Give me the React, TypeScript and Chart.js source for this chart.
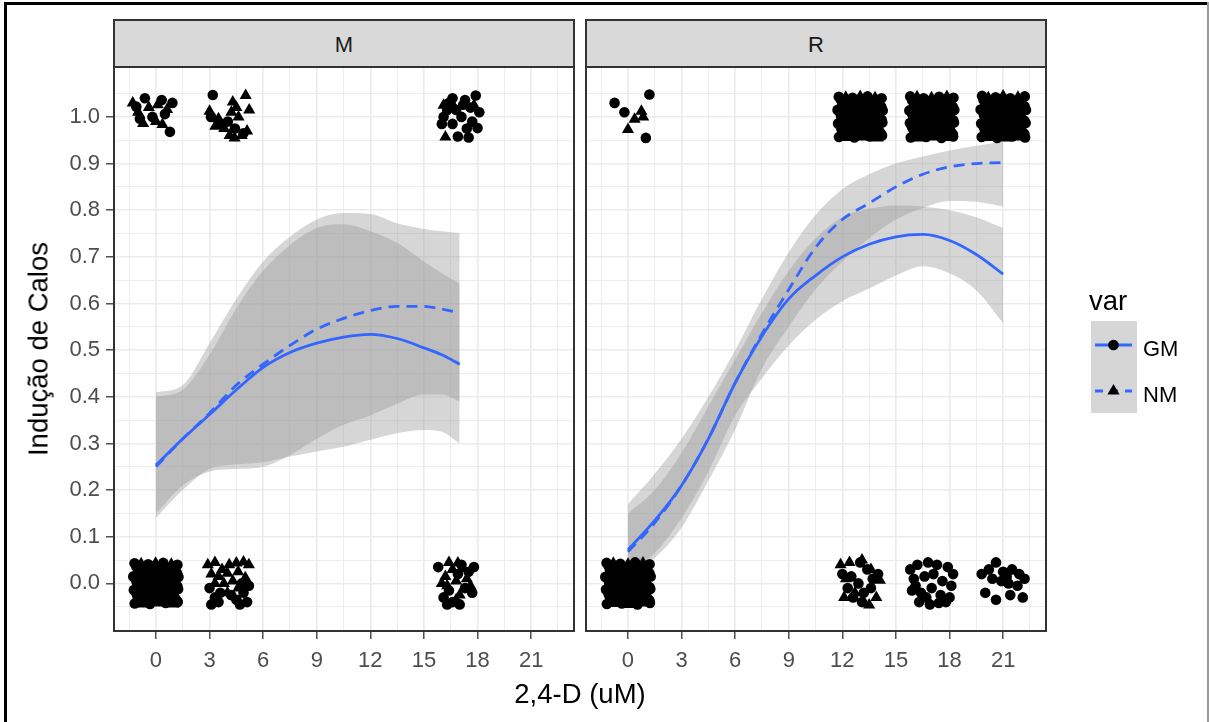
import React, { useEffect, useRef } from 'react';
import { Chart, registerables } from 'chart.js';

Chart.register(...registerables);

type Pt = [number, number];

// ---------------- text ----------------
const PANELS = ['M', 'R'];
const LEGEND_TITLE = 'var';
const SERIES = ['GM', 'NM'];
const X_TITLE = '2,4-D (uM)';
const Y_TITLE = 'Indução de Calos';

// ---------------- axes ----------------
const X_RANGE = [-2.35, 23.4];
const Y_RANGE = [-0.102, 1.107];
const X_MAJOR = [0, 3, 6, 9, 12, 15, 18, 21];
const X_LABELS = ['0', '3', '6', '9', '12', '15', '18', '21'];
const X_MINOR = [-1.5, 1.5, 4.5, 7.5, 10.5, 13.5, 16.5, 19.5, 22.5];
const Y_MAJOR = [0, 0.1, 0.2, 0.3, 0.4, 0.5, 0.6, 0.7, 0.8, 0.9, 1.0];
const Y_LABELS = ['0.0', '0.1', '0.2', '0.3', '0.4', '0.5', '0.6', '0.7', '0.8', '0.9', '1.0'];
const Y_MINOR = [-0.05, 0.05, 0.15, 0.25, 0.35, 0.45, 0.55, 0.65, 0.75, 0.85, 0.95, 1.05];

// ---------------- smooth fits: panel M ----------------
const M_X = [0, 1.5, 3, 4.5, 6, 7.5, 9, 10.5, 12, 13.5, 15, 16, 17];
const M_GM_FIT = [0.254, 0.31, 0.362, 0.415, 0.463, 0.495, 0.515, 0.528, 0.534, 0.525, 0.505, 0.49, 0.47];
const M_GM_LO = [0.14, 0.2, 0.245, 0.255, 0.26, 0.272, 0.283, 0.293, 0.308, 0.322, 0.329, 0.325, 0.3];
const M_GM_HI = [0.4, 0.415, 0.49, 0.59, 0.67, 0.725, 0.762, 0.77, 0.755, 0.73, 0.69, 0.665, 0.643];
const M_NM_FIT = [0.25, 0.31, 0.365, 0.425, 0.47, 0.51, 0.545, 0.568, 0.585, 0.594, 0.594, 0.588, 0.58];
const M_NM_LO = [0.15, 0.21, 0.24, 0.245, 0.25, 0.275, 0.31, 0.34, 0.36, 0.385, 0.405, 0.405, 0.39];
const M_NM_HI = [0.41, 0.425, 0.515, 0.61, 0.69, 0.743, 0.78, 0.794, 0.792, 0.772, 0.76, 0.755, 0.751];

// ---------------- smooth fits: panel R ----------------
const R_X = [0, 1.5, 3, 4.5, 6, 7.5, 9, 10.5, 12, 13.5, 15, 16.5, 18, 19.5, 21];
const R_GM_FIT = [0.072, 0.135, 0.21, 0.31, 0.43, 0.53, 0.61, 0.66, 0.7, 0.727, 0.743, 0.748, 0.735, 0.705, 0.663];
const R_GM_LO = [0.025, 0.065, 0.14, 0.24, 0.36, 0.44, 0.51, 0.565, 0.605, 0.632, 0.66, 0.68, 0.665, 0.628, 0.558];
const R_GM_HI = [0.15, 0.2, 0.28, 0.38, 0.48, 0.58, 0.67, 0.74, 0.785, 0.803, 0.81, 0.808, 0.8, 0.785, 0.762];
const R_NM_FIT = [0.068, 0.13, 0.21, 0.31, 0.43, 0.535, 0.63, 0.72, 0.78, 0.815, 0.85, 0.877, 0.893, 0.9, 0.902];
const R_NM_LO = [0.02, 0.055, 0.12, 0.22, 0.33, 0.46, 0.55, 0.63, 0.69, 0.74, 0.78, 0.805, 0.82, 0.818, 0.808];
const R_NM_HI = [0.17, 0.235, 0.31, 0.4, 0.5, 0.61, 0.71, 0.79, 0.845, 0.877, 0.9, 0.915, 0.928, 0.938, 0.947];

// ---------------- jittered observations: panel M ----------------
const M_GM_POINTS: Pt[] = [
  [-1.1, 1.022], [-0.62, 1.04], [0.32, 1.036], [0.92, 1.03], [0.78, 0.968], [-0.2, 1.0], [0.5, 1.006], [-0.9, 0.996],
  [3.18, 1.047], [3.08, 1.0], [3.62, 0.985], [4.42, 0.975], [4.9, 0.965], [4.02, 0.99],
  [16.1, 1.0], [16.6, 1.04], [17.3, 1.036], [17.9, 1.046], [18.1, 1.01], [17.6, 1.02], [16.8, 1.015], [16.4, 1.03],
  [17.1, 1.0], [17.7, 0.99], [16.0, 0.985], [17.4, 0.975], [18.0, 0.976], [16.9, 0.958], [17.5, 0.956], [16.6, 0.985],
  [17.2, 1.026], [16.3, 1.015],
  [-1.2, 0.043], [-0.44, 0.041], [0.41, 0.044], [1.2, 0.04], [-1.0, 0.028], [-0.2, 0.03], [0.64, 0.027],
  [-1.27, 0.015], [-0.41, 0.013], [0.45, 0.016], [1.26, 0.014], [-1.06, 0.0], [-0.19, 0.002], [0.68, -0.001],
  [-1.24, -0.014], [-0.38, -0.013], [0.5, -0.015], [1.24, -0.012], [-1.03, -0.029], [-0.14, -0.03], [0.74, -0.028],
  [-1.19, -0.043], [-0.33, -0.044], [0.54, -0.042], [1.22, -0.04],
  [-1.1, 0.036], [-0.6, 0.035], [-0.08, 0.037], [0.42, 0.034], [0.95, 0.036], [-0.88, 0.022], [-0.36, 0.021],
  [0.15, 0.023], [0.68, 0.021], [1.18, 0.022], [-1.12, 0.007], [-0.58, 0.008], [-0.05, 0.006], [0.47, 0.007],
  [0.98, 0.008], [-0.9, -0.007], [-0.35, -0.006], [0.18, -0.008], [0.7, -0.007], [1.2, -0.006], [-1.1, -0.021],
  [-0.6, -0.022], [-0.06, -0.02], [0.46, -0.021], [0.96, -0.022], [-0.88, -0.036], [-0.37, -0.037], [0.16, -0.035],
  [0.69, -0.036], [1.17, -0.037],
  [3.0, -0.01], [3.3, -0.03], [3.1, -0.045], [3.6, -0.02], [4.5, -0.035], [4.9, -0.02], [5.1, -0.04], [4.7, -0.045],
  [3.5, -0.04], [4.8, 0.0], [5.2, -0.005], [4.2, -0.025],
  [15.8, 0.035], [16.1, -0.03], [16.3, -0.045], [16.6, -0.04], [17.0, -0.045], [16.9, 0.02], [17.5, 0.025], [17.8, 0.035],
  [17.3, -0.01], [17.7, -0.02], [16.4, -0.015], [17.1, 0.04],
];
const M_NM_POINTS: Pt[] = [
  [-1.3, 1.03], [-0.4, 1.02], [0.1, 1.026], [0.62, 1.016], [-0.72, 0.986], [0.0, 0.99], [0.36, 0.984], [-1.0, 1.01],
  [3.0, 1.012], [3.5, 0.996], [4.3, 1.032], [4.62, 1.0], [5.02, 1.046], [5.22, 1.015], [4.12, 0.96], [4.8, 0.96],
  [4.4, 0.955], [3.82, 0.975], [5.1, 0.97], [3.32, 0.98], [4.5, 1.02], [4.22, 1.01],
  [16.2, 0.957], [16.1, 1.025], [16.7, 1.02], [17.8, 1.025],
  [-0.83, 0.042], [-0.02, 0.043], [0.86, 0.041], [-0.62, 0.029], [0.23, 0.028], [1.07, 0.03], [-0.86, 0.016],
  [0.03, 0.014], [0.88, 0.015], [-0.65, 0.001], [0.24, -0.001], [1.1, 0.0], [-0.81, -0.014], [0.06, -0.015],
  [0.93, -0.013], [-0.58, -0.028], [0.3, -0.03], [1.14, -0.029], [-0.78, -0.044], [0.1, -0.042], [0.97, -0.044],
  [2.9, 0.04], [3.3, 0.045], [3.7, 0.03], [4.1, 0.04], [4.5, 0.044], [4.9, 0.046], [5.2, 0.04], [3.1, 0.02],
  [3.5, 0.015], [4.0, 0.022], [4.6, 0.025], [5.0, 0.012], [3.8, 0.0], [4.3, 0.005], [3.3, 0.0], [4.0, -0.02], [4.6, -0.01],
  [16.4, 0.045], [16.9, 0.044], [16.6, 0.03], [17.2, 0.032], [16.2, 0.015], [16.8, 0.005], [17.4, 0.01], [16.0, 0.0],
  [16.3, -0.005], [17.6, -0.005], [17.0, -0.025], [16.8, -0.035],
];

// ---------------- jittered observations: panel R ----------------
const R_GM_POINTS: Pt[] = [
  [-0.75, 1.03], [-0.2, 1.01], [1.2, 1.048], [1.0, 0.955],
  [11.8, 1.043], [12.57, 1.041], [13.41, 1.044], [14.2, 1.04], [12.0, 1.028], [12.8, 1.03], [13.64, 1.027],
  [11.73, 1.015], [12.59, 1.013], [13.45, 1.016], [14.26, 1.014], [11.94, 1.0], [12.81, 1.002], [13.68, 0.999],
  [11.76, 0.986], [12.62, 0.987], [13.5, 0.985], [14.24, 0.988], [11.97, 0.971], [12.86, 0.97], [13.74, 0.972],
  [11.81, 0.957], [12.67, 0.956], [13.54, 0.958], [14.22, 0.96],
  [11.92, 1.036], [12.41, 1.035], [12.93, 1.037], [13.44, 1.034], [13.96, 1.036], [12.14, 1.022], [12.65, 1.021],
  [13.17, 1.023], [13.69, 1.021], [14.18, 1.022], [11.9, 1.007], [12.43, 1.008], [12.96, 1.006], [13.48, 1.007],
  [13.99, 1.008], [12.11, 0.993], [12.66, 0.994], [13.19, 0.992], [13.71, 0.993], [14.2, 0.994], [11.91, 0.979],
  [12.42, 0.978], [12.95, 0.98], [13.47, 0.979], [13.97, 0.978], [12.13, 0.964], [12.64, 0.963], [13.17, 0.965],
  [13.7, 0.964], [14.17, 0.963],
  [15.8, 1.044], [16.55, 1.04], [17.42, 1.043], [18.22, 1.041], [16.02, 1.029], [16.78, 1.028], [17.66, 1.03],
  [15.75, 1.014], [16.61, 1.016], [17.47, 1.013], [18.27, 1.015], [15.96, 1.001], [16.83, 0.999], [17.7, 1.002],
  [15.78, 0.987], [16.64, 0.985], [17.52, 0.986], [18.25, 0.988], [15.99, 0.972], [16.88, 0.971], [17.72, 0.97],
  [15.83, 0.956], [16.69, 0.957], [17.55, 0.955], [18.2, 0.958],
  [15.91, 1.035], [16.43, 1.036], [16.94, 1.034], [17.46, 1.037], [17.97, 1.035], [16.12, 1.021], [16.66, 1.022],
  [17.18, 1.02], [17.7, 1.022], [18.19, 1.021], [15.89, 1.008], [16.41, 1.006], [16.95, 1.007], [17.49, 1.008],
  [18.0, 1.006], [16.13, 0.992], [16.65, 0.993], [17.2, 0.994], [17.72, 0.992], [18.21, 0.993], [15.9, 0.978],
  [16.44, 0.979], [16.96, 0.977], [17.48, 0.978], [17.99, 0.979], [16.12, 0.963], [16.67, 0.964], [17.19, 0.962],
  [17.71, 0.964], [18.18, 0.963],
  [19.82, 1.045], [20.58, 1.042], [21.4, 1.04], [22.21, 1.044], [20.0, 1.03], [20.82, 1.027], [21.62, 1.029],
  [19.74, 1.016], [20.6, 1.014], [21.46, 1.013], [22.28, 1.015], [19.95, 1.002], [20.8, 0.998], [21.67, 1.0],
  [19.77, 0.986], [20.63, 0.988], [21.49, 0.985], [22.26, 0.987], [19.98, 0.97], [20.86, 0.972], [21.73, 0.971],
  [19.8, 0.957], [20.66, 0.955], [21.52, 0.958], [22.23, 0.956],
  [19.9, 1.036], [20.42, 1.034], [20.93, 1.036], [21.45, 1.035], [21.96, 1.037], [20.14, 1.022], [20.67, 1.02],
  [21.19, 1.022], [21.7, 1.021], [22.2, 1.023], [19.91, 1.007], [20.43, 1.008], [20.96, 1.006], [21.47, 1.007],
  [21.98, 1.008], [20.12, 0.993], [20.64, 0.992], [21.18, 0.994], [21.69, 0.993], [22.19, 0.992], [19.92, 0.978],
  [20.42, 0.979], [20.94, 0.978], [21.46, 0.977], [21.97, 0.979], [20.13, 0.964], [20.66, 0.963], [21.18, 0.965],
  [21.71, 0.963], [22.18, 0.964],
  [-1.2, 0.044], [-0.43, 0.042], [0.4, 0.045], [1.21, 0.041], [-1.01, 0.029], [-0.2, 0.028], [0.63, 0.03],
  [-1.27, 0.014], [-0.42, 0.016], [0.44, 0.013], [1.27, 0.015], [-1.05, 0.001], [-0.18, -0.001], [0.67, 0.0],
  [-1.23, -0.013], [-0.39, -0.015], [0.49, -0.014], [1.25, -0.012], [-1.02, -0.029], [-0.15, -0.028], [0.73, -0.03],
  [-1.18, -0.044], [-0.34, -0.043], [0.53, -0.045], [1.23, -0.042],
  [-1.08, 0.037], [-0.57, 0.036], [-0.05, 0.035], [0.45, 0.037], [0.97, 0.036], [-0.86, 0.021], [-0.33, 0.022],
  [0.18, 0.021], [0.7, 0.023], [1.2, 0.022], [-1.1, 0.008], [-0.56, 0.007], [-0.03, 0.008], [0.49, 0.006],
  [1.0, 0.007], [-0.87, -0.006], [-0.34, -0.008], [0.2, -0.007], [0.71, -0.006], [1.21, -0.008], [-1.09, -0.022],
  [-0.58, -0.021], [-0.04, -0.022], [0.48, -0.02], [0.98, -0.021], [-0.86, -0.037], [-0.35, -0.036], [0.17, -0.037],
  [0.7, -0.035], [1.19, -0.036],
  [12.0, 0.02], [12.3, -0.01], [12.6, -0.03], [13.1, -0.04], [13.4, 0.03], [13.7, 0.01], [12.9, 0.0], [13.2, -0.02],
  [12.5, 0.015], [14.0, 0.02], [13.6, -0.01], [13.0, 0.045],
  [15.8, 0.03], [16.2, 0.04], [16.8, 0.045], [17.3, 0.04], [17.9, 0.035], [18.2, 0.02], [16.0, 0.01], [16.6, 0.015],
  [17.1, 0.02], [17.6, 0.005], [18.1, -0.005], [15.9, -0.015], [16.4, -0.02], [17.0, -0.01], [17.5, -0.025],
  [18.0, -0.03], [16.3, -0.04], [16.9, -0.045], [17.4, -0.042], [17.8, -0.04], [16.1, -0.005], [16.7, -0.03],
  [19.8, 0.02], [20.2, 0.03], [20.6, 0.045], [21.0, 0.025], [21.5, 0.03], [21.9, 0.02], [22.2, 0.01], [20.4, 0.01],
  [20.9, 0.005], [21.3, 0.0], [21.8, -0.005], [20.0, -0.02], [20.6, -0.035], [21.4, -0.025], [22.1, -0.03], [21.2, 0.015],
];
const R_NM_POINTS: Pt[] = [
  [0.75, 1.012], [0.37, 0.995], [0.0, 0.973], [0.85, 1.0],
  [12.19, 1.042], [13.0, 1.044], [13.83, 1.041], [12.39, 1.029], [13.22, 1.03], [14.05, 1.028], [12.16, 1.014],
  [13.02, 1.015], [13.88, 1.013], [12.36, 1.0], [13.24, 1.001], [14.1, 0.999], [12.19, 0.985], [13.06, 0.987],
  [13.93, 0.986], [12.43, 0.971], [13.3, 0.97], [14.14, 0.972], [12.22, 0.956], [13.1, 0.957], [13.97, 0.955],
  [16.18, 1.043], [16.99, 1.041], [17.85, 1.044], [16.4, 1.028], [17.23, 1.03], [18.08, 1.029], [16.15, 1.015],
  [17.03, 1.014], [17.9, 1.016], [16.37, 1.001], [17.26, 0.999], [18.12, 1.0], [16.2, 0.986], [17.07, 0.985],
  [17.94, 0.987], [16.44, 0.97], [17.3, 0.972], [18.15, 0.971], [16.24, 0.955], [17.12, 0.957], [17.98, 0.956],
  [20.17, 1.041], [21.0, 1.045], [21.83, 1.042], [20.41, 1.029], [21.2, 1.028], [22.06, 1.03], [20.18, 1.015],
  [21.04, 1.013], [21.88, 1.016], [20.38, 1.0], [21.25, 1.002], [22.1, 0.999], [20.21, 0.987], [21.08, 0.985],
  [21.95, 0.986], [20.42, 0.971], [21.28, 0.972], [22.16, 0.97], [20.2, 0.956], [21.12, 0.955], [21.98, 0.957],
  [-0.82, 0.043], [0.0, 0.041], [0.84, 0.044], [-0.6, 0.028], [0.22, 0.03], [1.08, 0.029], [-0.85, 0.015],
  [0.02, 0.013], [0.89, 0.016], [-0.64, 0.0], [0.25, 0.002], [1.11, -0.001], [-0.8, -0.015], [0.07, -0.013],
  [0.94, -0.014], [-0.57, -0.03], [0.31, -0.029], [1.15, -0.028], [-0.77, -0.043], [0.12, -0.045], [0.98, -0.042],
  [11.9, 0.04], [12.4, 0.045], [13.1, 0.05], [13.6, 0.03], [12.2, 0.01], [14.1, 0.007], [12.7, -0.02],
  [13.5, -0.046], [12.1, -0.03], [13.9, -0.03],
];

// ---------------- styling ----------------
const FONT = '"Liberation Sans", Arial, Helvetica, sans-serif';
const BLUE = '#3366FF';
const RIBBON = 'rgba(153,153,153,0.4)';
const GRID = '#EBEBEB';
const BORDER = '#333333';

const curve = (xs: number[], ys: number[]) => xs.map((x, i) => ({ x, y: ys[i] }));
const pts = (p: Pt[]) => p.map(([x, y]) => ({ x, y }));

function buildDatasets(
  xs: number[],
  gmFit: number[], gmLo: number[], gmHi: number[],
  nmFit: number[], nmLo: number[], nmHi: number[],
  gmPts: Pt[], nmPts: Pt[],
) {
  const band = { borderColor: 'transparent', borderWidth: 0, pointRadius: 0, cubicInterpolationMode: 'monotone', order: 4 };
  return [
    { ...band, data: curve(xs, gmLo), fill: false },
    { ...band, data: curve(xs, gmHi), fill: 0, backgroundColor: RIBBON },
    { ...band, data: curve(xs, nmLo), fill: false },
    { ...band, data: curve(xs, nmHi), fill: 2, backgroundColor: RIBBON },
    {
      data: pts(gmPts), showLine: false, pointStyle: 'circle', pointRadius: 5.3,
      pointBackgroundColor: '#000', pointBorderColor: '#000', pointBorderWidth: 0, order: 2,
    },
    {
      data: pts(nmPts), showLine: false, pointStyle: 'triangle', pointRadius: 7,
      pointBackgroundColor: '#000', pointBorderColor: '#000', pointBorderWidth: 0, order: 2,
    },
    {
      data: curve(xs, gmFit), borderColor: BLUE, borderWidth: 2.8, pointRadius: 0, fill: false,
      cubicInterpolationMode: 'monotone', order: 1,
    },
    {
      data: curve(xs, nmFit), borderColor: BLUE, borderWidth: 2.8, pointRadius: 0, fill: false,
      borderDash: [11, 7], cubicInterpolationMode: 'monotone', order: 1,
    },
  ];
}

const panelBorder = {
  id: 'panelBorder',
  afterDraw(chart: any) {
    const { ctx, chartArea: a } = chart;
    ctx.save();
    ctx.strokeStyle = BORDER;
    ctx.lineWidth = 2;
    ctx.strokeRect(a.left, a.top, a.right - a.left, a.bottom - a.top);
    ctx.restore();
  },
};

function makeOptions(showYLabels: boolean, yWidth: number): any {
  const tickFont = { family: FONT, size: 22 };
  const isMajorX = (v: number) => X_MAJOR.indexOf(v) >= 0;
  const isMajorY = (v: number) => Y_MAJOR.indexOf(v) >= 0;
  return {
    responsive: false,
    animation: false,
    events: [],
    layout: { padding: { top: 67, left: 0, right: 6, bottom: 0 }, autoPadding: false },
    plugins: { legend: { display: false }, tooltip: { enabled: false } },
    scales: {
      x: {
        type: 'linear',
        min: X_RANGE[0],
        max: X_RANGE[1],
        afterBuildTicks: (s: any) => {
          s.ticks = [...X_MINOR, ...X_MAJOR].sort((a, b) => a - b).map((v) => ({ value: v }));
        },
        afterFit: (s: any) => { s.height = 91; },
        ticks: {
          autoSkip: false, maxRotation: 0, minRotation: 0, padding: 9, color: '#4D4D4D', font: tickFont,
          callback: (v: number) => { const i = X_MAJOR.indexOf(v); return i >= 0 ? X_LABELS[i] : ''; },
        },
        grid: {
          color: GRID,
          lineWidth: (c: any) => (c.tick && isMajorX(c.tick.value) ? 1.6 : 0.9),
          tickLength: 8,
          tickWidth: 1.3,
          tickColor: (c: any) => (c.tick && isMajorX(c.tick.value) ? BORDER : 'rgba(0,0,0,0)'),
        },
        border: { display: false },
      },
      y: {
        type: 'linear',
        min: Y_RANGE[0],
        max: Y_RANGE[1],
        afterBuildTicks: (s: any) => {
          s.ticks = [...Y_MINOR, ...Y_MAJOR].sort((a, b) => a - b).map((v) => ({ value: v }));
        },
        afterFit: (s: any) => { s.width = yWidth; },
        ticks: {
          display: showYLabels, autoSkip: false, padding: 6, color: '#4D4D4D', font: tickFont,
          callback: (v: number) => { const i = Y_MAJOR.indexOf(v); return i >= 0 ? Y_LABELS[i] : ''; },
        },
        grid: {
          color: GRID,
          lineWidth: (c: any) => (c.tick && isMajorY(c.tick.value) ? 1.6 : 0.9),
          drawTicks: showYLabels,
          tickLength: 8,
          tickWidth: 1.3,
          tickColor: (c: any) => (c.tick && isMajorY(c.tick.value) ? BORDER : 'rgba(0,0,0,0)'),
        },
        border: { display: false },
      },
    },
  };
}

export default function App() {
  const mRef = useRef<HTMLCanvasElement>(null);
  const rRef = useRef<HTMLCanvasElement>(null);

  useEffect(() => {
    const charts: Chart[] = [];
    if (mRef.current) {
      charts.push(new Chart(mRef.current, {
        type: 'line',
        data: { datasets: buildDatasets(M_X, M_GM_FIT, M_GM_LO, M_GM_HI, M_NM_FIT, M_NM_LO, M_NM_HI, M_GM_POINTS, M_NM_POINTS) as any },
        options: makeOptions(true, 114),
        plugins: [panelBorder],
      }));
    }
    if (rRef.current) {
      charts.push(new Chart(rRef.current, {
        type: 'line',
        data: { datasets: buildDatasets(R_X, R_GM_FIT, R_GM_LO, R_GM_HI, R_NM_FIT, R_NM_LO, R_NM_HI, R_GM_POINTS, R_NM_POINTS) as any },
        options: makeOptions(false, 10),
        plugins: [panelBorder],
      }));
    }
    return () => charts.forEach((c) => c.destroy());
  }, []);

  const strip = (left: number): React.CSSProperties => ({
    position: 'absolute', left, top: 19, width: 462, height: 49, boxSizing: 'border-box',
    border: `2px solid ${BORDER}`, background: '#D9D9D9', display: 'flex', alignItems: 'center',
    justifyContent: 'center', fontFamily: FONT, fontSize: 22, color: '#1A1A1A', paddingTop: 3,
  });

  return (
    <div style={{ position: 'fixed', left: 0, top: 0, width: 1209, height: 722, background: '#fff', overflow: 'hidden' }}>
      <canvas ref={mRef} width={580} height={722} style={{ position: 'absolute', left: 0, top: 0 }} />
      <canvas ref={rRef} width={476} height={722} style={{ position: 'absolute', left: 576, top: 0 }} />
      <div style={strip(113)}>{PANELS[0]}</div>
      <div style={strip(585)}>{PANELS[1]}</div>
      <svg width={1209} height={722} style={{ position: 'absolute', left: 0, top: 0, pointerEvents: 'none' }}
        fontFamily={FONT}>
        <text x={580} y={703} fontSize={27.5} textAnchor="middle" fill="#000">{X_TITLE}</text>
        <text transform="translate(47.5,349) rotate(-90)" fontSize={27.5} textAnchor="middle" fill="#000">{Y_TITLE}</text>
        <text x={1089} y={310} fontSize={27.5} fill="#000">{LEGEND_TITLE}</text>
        <rect x={1091} y={321} width={46} height={92} fill="#D6D6D6" />
        <line x1={1095} x2={1132} y1={345} y2={345} stroke={BLUE} strokeWidth={2.8} />
        <circle cx={1113.5} cy={345} r={5.3} fill="#000" />
        <line x1={1095} x2={1132} y1={391} y2={391} stroke={BLUE} strokeWidth={2.8} strokeDasharray="8 7" />
        <polygon points="1113.5,384 1119.6,394.5 1107.4,394.5" fill="#000" />
        <text x={1143} y={356} fontSize={22} fill="#000">{SERIES[0]}</text>
        <text x={1143} y={401.5} fontSize={22} fill="#000">{SERIES[1]}</text>
      </svg>
      <div style={{ position: 'absolute', left: 4, top: 2, width: 1205, height: 3, background: '#000' }} />
      <div style={{ position: 'absolute', left: 4, top: 2, width: 3, height: 720, background: '#000' }} />
      <div style={{ position: 'absolute', left: 1207, top: 2, width: 2, height: 720, background: '#9a9a9a' }} />
    </div>
  );
}
